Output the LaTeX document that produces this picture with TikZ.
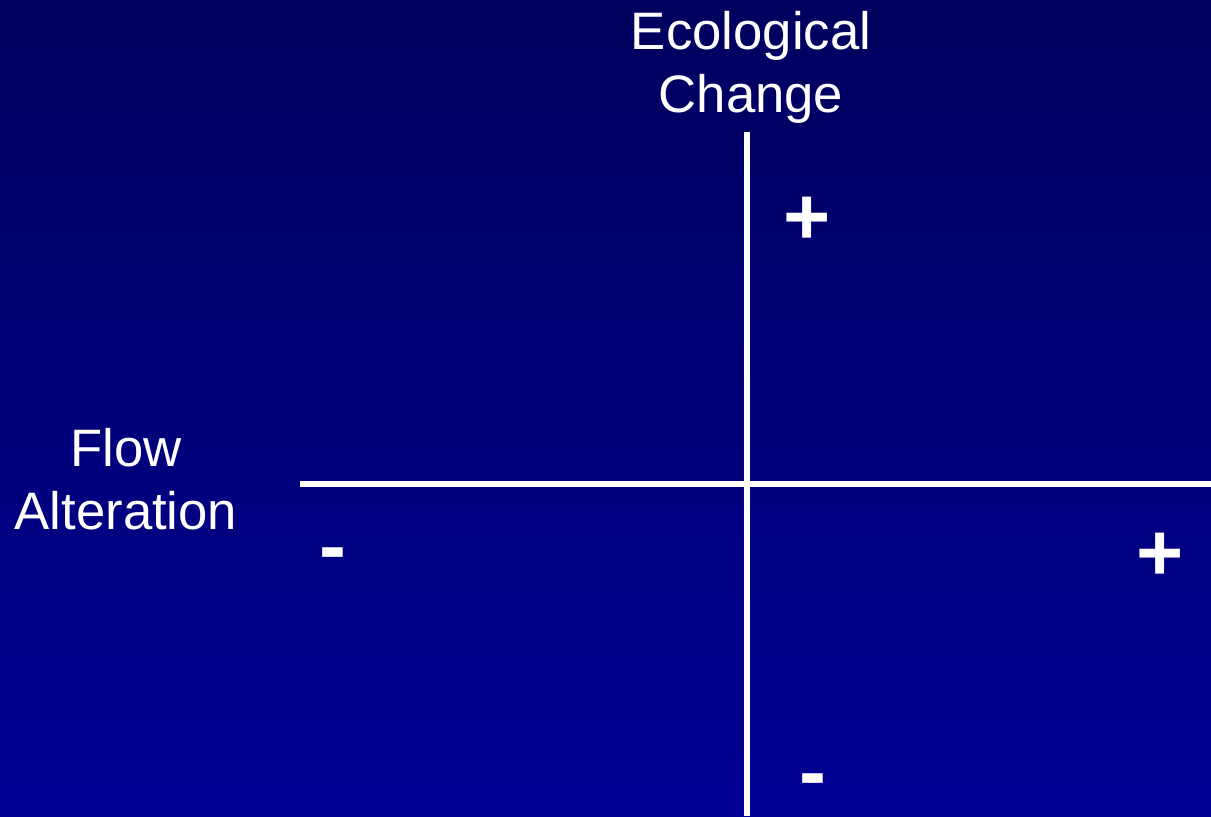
\documentclass[tikz,border=0pt]{standalone}
\usepackage{fontspec}
\setmainfont{Liberation Sans}
\usepackage{tikz}
\usetikzlibrary{positioning,calc}
\definecolor{navytop}{HTML}{00005E}
\definecolor{navymid}{HTML}{000088}
\definecolor{navybot}{HTML}{000094}
\tikzset{
  axisline/.style={white,line width=0.11cm},
  axislabel/.style={white,align=center,font=\fontsize{30}{36}\selectfont,inner sep=0pt},
  signmark/.style={white,font=\bfseries\fontsize{46}{46}\selectfont,inner sep=0pt}
}

\begin{document}
\begin{tikzpicture}[x=0.02cm,y=-0.02cm]
% Backdrop: 1211 x 816 units, darker at the top.
\shade[top color=navytop,middle color=navymid,bottom color=navybot] (0,0) rectangle (1211,816);
\useasboundingbox (0,0) rectangle (1211,816);
% Axes
\coordinate (ytop) at (747,132);
\coordinate (ybot) at (747,816);
\coordinate (xleft) at (300,484);
\coordinate (xright) at (1211,484);
\draw[axisline] (ytop)--(ybot);
\draw[axisline] (xleft)--(xright);
% Labels
\node[axislabel] (eco) at (751,67) {Ecological\\Change};
\node[axislabel] (flow) at (126,479) {Flow\\Alteration};
\node[signmark] (yplus) at (807,221) {+};
\node[signmark] (yminus) at (813,787) {-};
\node[signmark] (xminus) at (333,561) {-};
\node[signmark] (xplus) at (1160,557) {+};
\end{tikzpicture}
\end{document}
